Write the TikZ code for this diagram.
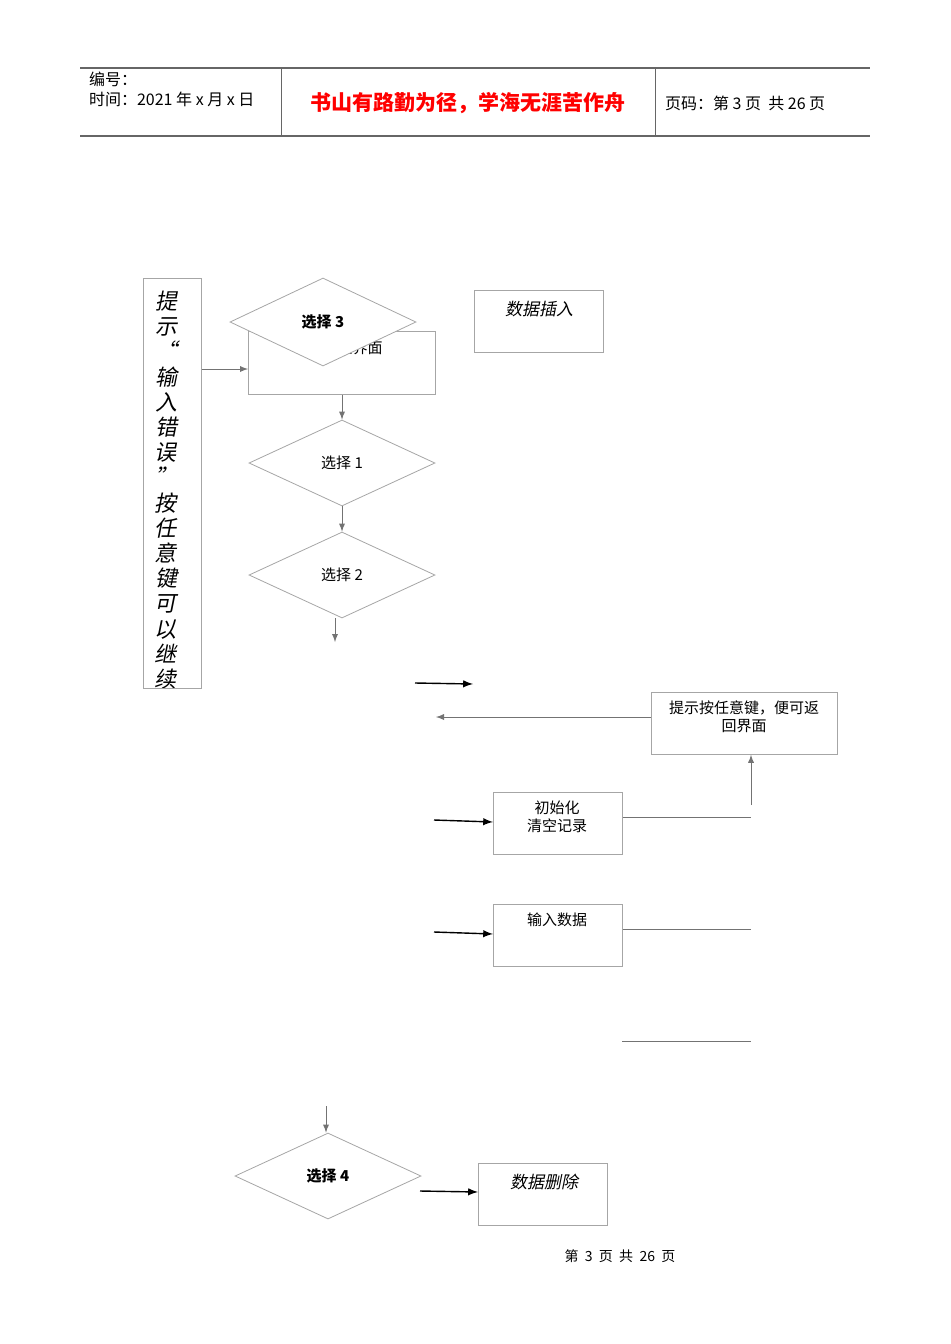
\documentclass[tikz,border=0pt]{standalone}
\usepackage{fontspec}
\setmainfont{Liberation Serif}
\newfontfamily\cjk{Noto Sans CJK SC}
\newfontfamily\cjkit[FakeSlant=0.2]{Noto Sans CJK SC}
\usetikzlibrary{shapes.geometric, arrows, positioning, calc}
\tikzstyle{box} = [rectangle, draw=black!35, line width=0.4pt, anchor=north west, inner sep=0pt]
\tikzstyle{choice} = [diamond, draw=black!35, fill=white, line width=0.4pt, inner sep=0pt, font=\cjk\fontsize{7.5}{9}\selectfont]
\tikzstyle{thin} = [draw=black!55, line width=0.4pt]
\tikzstyle{arrow} = [thin, ->, >=latex]
\tikzstyle{bold arrow} = [draw=black, line width=0.7pt, ->, >=latex]

\begin{document}
\begin{tikzpicture}[x=0.5pt, y=-0.5pt, font=\cjk\fontsize{7.5}{9}\selectfont]
\useasboundingbox (0,0) rectangle (950,1344);

% Header
\draw [black!60, line width=0.6pt] (80,68) -- (870,68) (80,136) -- (870,136);
\draw [black!60, line width=0.5pt] (281,68) -- (281,136) (655,68) -- (655,136);
\node (code) [anchor=west, align=left, font=\cjk\fontsize{8}{10}\selectfont] at (82,89) {编号：\\时间：2021 年 x 月 x 日};
\node (motto) [text=red, font=\cjk\bfseries\fontsize{10.5}{12}\selectfont] at (468,103) {书山有路勤为径，学海无涯苦作舟};
\node (page) [anchor=west, font=\cjk\fontsize{8}{10}\selectfont] at (658,103) {页码：第 3 页\ \ 共 26 页};

% Main blocks
\node (hint) [box, minimum width=29pt, minimum height=205pt] at (143,278) {};
\begin{scope}
\clip (144,279) rectangle (200,687);
\node (hinttext) [anchor=north, text width=12pt, align=center, font=\cjkit\fontsize{11}{12.6}\selectfont] at (166,284) {提\\示\\“\\输\\入\\错\\误\\”\\按\\任\\意\\键\\可\\以\\继\\续};
\end{scope}
\node (menu) [box, minimum width=93.5pt, minimum height=31.5pt] at (248,331) {};
\node (menutext) at (345,348) {显示主界面};
\node (sel3) [choice, minimum width=93pt, minimum height=44pt] at (323,322) {\textbf{选择 3}};
\node (insert) [box, minimum width=64.5pt, minimum height=31pt] at (474,290) {};
\node [font=\cjkit\fontsize{8.5}{10}\selectfont] at (539,309) {数据插入};
\node (sel1) [choice, minimum width=93pt, minimum height=43pt] at (342,463) {选择 1};
\node (sel2) [choice, minimum width=93pt, minimum height=43pt] at (342,575) {选择 2};
\node (back) [box, minimum width=93pt, minimum height=31pt] at (651,692) {};
\node [align=center] at (744,717) {提示按任意键，便可返\\回界面};
\node (init) [box, minimum width=64.5pt, minimum height=31pt] at (493,792) {};
\node [align=center] at (557,817) {初始化\\清空记录};
\node (input) [box, minimum width=64.5pt, minimum height=31pt] at (493,904) {};
\node at (557,920) {输入数据};
\node (sel4) [choice, minimum width=93pt, minimum height=43pt] at (328,1176) {\textbf{选择 4}};
\node (delete) [box, minimum width=64.5pt, minimum height=31pt] at (478,1163) {};
\node [font=\cjkit\fontsize{8.5}{10}\selectfont] at (544,1182) {数据删除};
\node (footer) [font=\cjk\fontsize{7}{8}\selectfont] at (620,1256) {第\ \ 3\ \ 页\ \ 共\ \ 26\ \ 页};

% Free ends
\coordinate (a1) at (335,642);
\coordinate (b0) at (415,683); \coordinate (b1) at (473,684);
\coordinate (c1) at (436,717);
\coordinate (d0) at (434,820); \coordinate (e0) at (434,932);
\coordinate (r0) at (751,805);
\coordinate (r1) at (751,817); \coordinate (r2) at (751,929);
\coordinate (f0) at (622,1041); \coordinate (f1) at (751,1041);
\coordinate (g0) at (326,1106);
\coordinate (h0) at (420,1191);

% Arrows
\draw [arrow] (hint.east |- 0,369) -- (menu.west |- 0,369);
\draw [arrow] (menu.south -| sel1) -- (sel1.north);
\draw [arrow] (sel1.south) -- (sel2.north);
\draw [arrow] (sel2.south -| a1) -- (a1);
\draw [bold arrow] (b0) -- (b1);
\draw [arrow] (back.west |- c1) -- (c1);
\draw [arrow] (r0) -- (back.south -| r0);
\draw [bold arrow] (d0) -- (init.west |- 0,822);
\draw [thin] (init.east |- r1) -- (r1);
\draw [bold arrow] (e0) -- (input.west |- 0,934);
\draw [thin] (input.east |- r2) -- (r2);
\draw [thin] (f0) -- (f1);
\draw [arrow] (g0) -- (sel4.north -| g0);
\draw [bold arrow] (h0) -- (delete.west |- 0,1192);

\end{tikzpicture}
\end{document}
